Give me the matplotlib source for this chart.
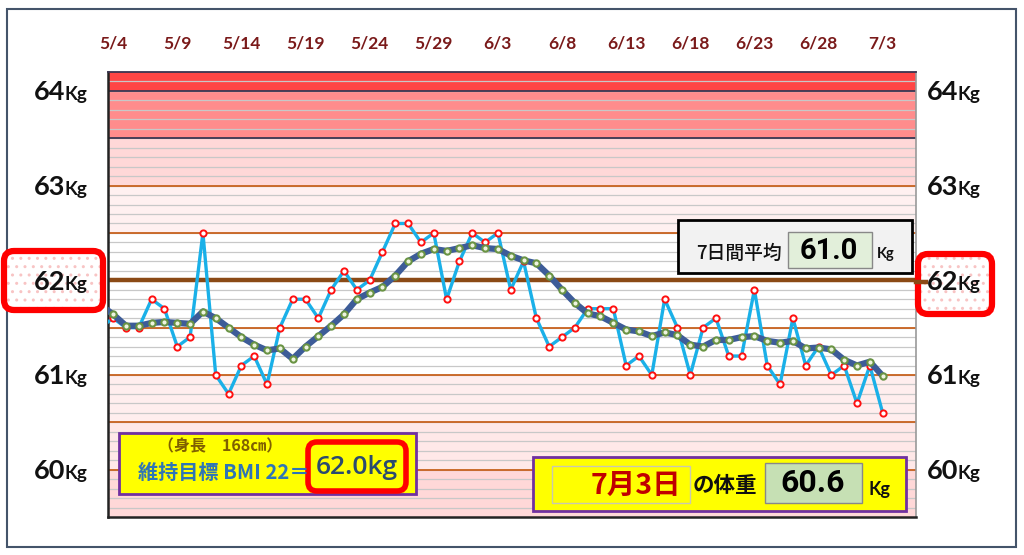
import numpy as np
import matplotlib.pyplot as plt
from matplotlib.patches import Rectangle, FancyBboxPatch
from matplotlib.transforms import IdentityTransform

# daily weight (kg), 5/3 .. 7/3 (5/3 only feeds the line that runs in from the left edge)
weight = [61.5,
          61.6, 61.5, 61.5, 61.8, 61.7, 61.3, 61.4, 62.5, 61.0, 60.8,
          61.1, 61.2, 60.9, 61.5, 61.8, 61.8, 61.6, 61.9, 62.1, 61.9,
          62.0, 62.3, 62.6, 62.6, 62.4, 62.5, 61.8, 62.2, 62.5, 62.4,
          62.5, 61.9, 62.2, 61.6, 61.3, 61.4, 61.5, 61.7, 61.7, 61.7,
          61.1, 61.2, 61.0, 61.8, 61.5, 61.0, 61.5, 61.6, 61.2, 61.2,
          61.9, 61.1, 60.9, 61.6, 61.1, 61.3, 61.0, 61.1, 60.7, 61.1,
          60.6]
# 7-day average as drawn
avg7 = [61.74,
        61.64, 61.52, 61.52, 61.55, 61.56, 61.55, 61.54, 61.67, 61.60, 61.50,
        61.40, 61.32, 61.26, 61.28, 61.17, 61.30, 61.41, 61.52, 61.64, 61.80,
        61.87, 61.93, 62.05, 62.20, 62.28, 62.33, 62.31, 62.34, 62.37, 62.34,
        62.33, 62.26, 62.21, 62.18, 62.05, 61.90, 61.76, 61.65, 61.62, 61.55,
        61.48, 61.46, 61.41, 61.45, 61.42, 61.32, 61.30, 61.37, 61.37, 61.40,
        61.41, 61.36, 61.34, 61.36, 61.28, 61.29, 61.27, 61.16, 61.10, 61.14,
        60.99]
tick_labels = ['5/4', '5/9', '5/14', '5/19', '5/24', '5/29', '6/3',
               '6/8', '6/13', '6/18', '6/23', '6/28', '7/3']
kg_levels = [64, 63, 62, 61, 60]
goal = 62.0
last_avg = '61.0'
last_weight = '60.6'
last_day = '7月3日'

JP = ['Noto Sans CJK JP', 'DejaVu Sans']
NUM = ['Roboto', 'DejaVu Sans']
W, H = 1024, 555

fig = plt.figure(figsize=(W / 100, H / 100), dpi=100)
fig.patch.set_facecolor('white')


def px(x, y):
    return x, H - y


def box(x0, y0, x1, y1, **kw):
    kw.setdefault('transform', IdentityTransform())
    r = Rectangle(px(x0, y1), x1 - x0, y1 - y0, **kw)
    fig.add_artist(r)
    return r


def rbox(x0, y0, x1, y1, rs, **kw):
    return FancyBboxPatch(px(x0, y1), x1 - x0, y1 - y0,
                          boxstyle='round,pad=0,rounding_size=%g' % rs,
                          transform=IdentityTransform(), **kw)


def ftext(x, y, s, **kw):
    return fig.text(x / W, 1 - y / H, s, **kw)


# outer frame
box(7, 9, 1016, 547, fill=False, edgecolor='#44546A', lw=1.5, zorder=0)

ax = fig.add_axes([108 / W, (H - 517) / H, 808 / W, 445 / H])
x = np.arange(len(weight)) - 1
ax.set_xlim(-0.4, 62.6)
ax.set_ylim(59.5, 64.2)

# background bands
ax.axhspan(64.0, 64.2, color='#FF4545', zorder=0)
ax.axhspan(63.5, 64.0, color='#FF8C8C', zorder=0)
ax.axhspan(63.0, 63.5, color='#FFD8D8', zorder=0)
ax.axhspan(62.5, 63.0, color='#FFF0F0', zorder=0)
ax.axhspan(61.0, 62.5, color='white', zorder=0)
ax.axhspan(60.5, 61.0, color='#FFEEEE', zorder=0)
ax.axhspan(60.0, 60.5, color='#FFE8E8', zorder=0)
ax.axhspan(59.5, 60.0, color='#FFD8D8', zorder=0)

for v in np.arange(59.6, 64.15, 0.1):
    ax.axhline(v, color='#C8C8C8', lw=0.9, zorder=1)
for v in [60.0, 60.5, 61.0, 61.5, 62.5, 63.0]:
    ax.axhline(v, color='#C8621E', lw=1.3, zorder=2)
for v in [63.5, 64.0]:
    ax.axhline(v, color='#3A3450', lw=1.3, zorder=2)
ax.axhline(goal, color='#8B4A16', lw=3.2, zorder=2)

ax.plot(x, weight, color='#1AB0E8', lw=2.4, marker='o', ms=4.5,
        mfc='white', mec='#FF1010', mew=1.4, zorder=4)
ax.plot(x, avg7, color='#3D5C98', lw=4.5, marker='o', ms=4.5,
        mfc='#EEF4E0', mec='#6A9444', mew=1.5, zorder=5)

ax.xaxis.set_ticks_position('top')
ax.set_xticks(np.arange(0, 61, 5))
ax.set_xticklabels(tick_labels, fontfamily='Lato', fontweight='bold',
                   fontsize=12.5, color='#7A1A1A')
ax.tick_params(axis='x', length=0, pad=15)
ax.set_yticks([])
for s in ['left', 'bottom']:
    ax.spines[s].set_color('#222222')
    ax.spines[s].set_linewidth(1.8)
ax.spines['top'].set_color('#3A3450')
ax.spines['top'].set_linewidth(1.3)
ax.spines['right'].set_color('#999999')
ax.spines['right'].set_linewidth(1.2)

# red marker boxes for 62Kg (kept in the axes so the labels sit above them)
for (x0, y0, x1, y1) in [(4, 251, 103, 310), (918, 254, 992, 314)]:
    fill = rbox(x0, y0, x1, y1, 10, facecolor='white', edgecolor='#F8C4C4',
                lw=0, hatch='..', zorder=6)
    edge = rbox(x0, y0, x1, y1, 10, fill=False, edgecolor='#FF0000', lw=4.5,
                zorder=7)
    for p in (fill, edge):
        p.set_clip_on(False)
        ax.add_artist(p)

# brown goal line runs into the right marker box
ax.add_artist(plt.Line2D([916, 926], [H - 282, H - 282], color='#8B4A16',
                         lw=3.2, transform=IdentityTransform(), zorder=7.5,
                         clip_on=False))

# y labels on both sides
ytr = ax.get_yaxis_transform()
for v in kg_levels:
    for xs in [-0.0915, 1.0135]:
        t = ax.text(xs, v - 0.1, str(v), transform=ytr, va='baseline',
                    ha='left', fontfamily='Lato', fontweight='bold',
                    fontsize=19.5, color='#111111', clip_on=False, zorder=8)
        ax.annotate('Kg', xy=(1, v - 0.1), xycoords=(t, 'data'),
                    xytext=(-0.5, 0), textcoords='offset points', va='baseline',
                    ha='left', fontfamily='Lato', fontweight='bold',
                    fontsize=13.5, color='#111111', annotation_clip=False,
                    zorder=8)

# 7-day average box
box(678, 220, 912, 273, facecolor='#F2F2F2', edgecolor='black', lw=2, zorder=9)
box(788, 232, 872, 268, facecolor='#E2EFDA', edgecolor='#888888', lw=1, zorder=10)
ftext(696, 253, '7日間平均', family=JP, fontsize=13.5, va='center', ha='left',
      color='#111111', fontweight='medium', zorder=11)
ftext(829, 251, last_avg, family=NUM, fontsize=21, va='center', ha='center',
      color='black', fontweight='bold', zorder=11)
ftext(877, 254, 'Kg', family=['Lato'], fontsize=10.5, va='center', ha='left',
      color='#111111', fontweight='bold', zorder=11)

# goal BMI box
box(119, 433, 416, 494, facecolor='#FFFF00', edgecolor='#7030A0', lw=2, zorder=9)
ftext(158, 446, '（身長　168㎝）', family=JP, fontsize=11.5, va='center',
      ha='left', color='#7F6000', fontweight='bold', zorder=11)
ftext(138, 472, '維持目標 BMI 22＝', family=JP, fontsize=14.5, va='center',
      ha='left', color='#2E75B6', fontweight='bold', zorder=11)
fig.add_artist(rbox(308, 442, 406, 491, 9, facecolor='#FFFF00',
                    edgecolor='#FF0000', lw=4, zorder=10))
ftext(357, 467, '%.1fkg' % goal, family=['Open Sans', 'DejaVu Sans'],
      fontsize=19, va='center', ha='center', color='#2A4A70',
      fontweight='semibold', zorder=11)

# latest weight box
box(533, 457, 906, 511, facecolor='#FFFF00', edgecolor='#7030A0', lw=2, zorder=9)
box(552, 466, 690, 503, facecolor='#FFFF00', edgecolor='#C8C8B0', lw=1, zorder=10)
ftext(681, 486, last_day, family=JP, fontsize=20.5, va='center', ha='right',
      color='#C00000', fontweight='bold', zorder=11)
ftext(693, 486, 'の体重', family=JP, fontsize=15.5, va='center', ha='left',
      color='#111111', fontweight='bold', zorder=11)
box(765, 463, 862, 503, facecolor='#C6E0B4', edgecolor='#888888', lw=1, zorder=10)
ftext(813, 483, last_weight, family=NUM, fontsize=23, va='center',
      ha='center', color='black', fontweight='bold', zorder=11)
ftext(868, 489, 'Kg', family=['Lato'], fontsize=13, va='center', ha='left',
      color='#111111', fontweight='bold', zorder=11)

fig.savefig('out.png', dpi=100)
